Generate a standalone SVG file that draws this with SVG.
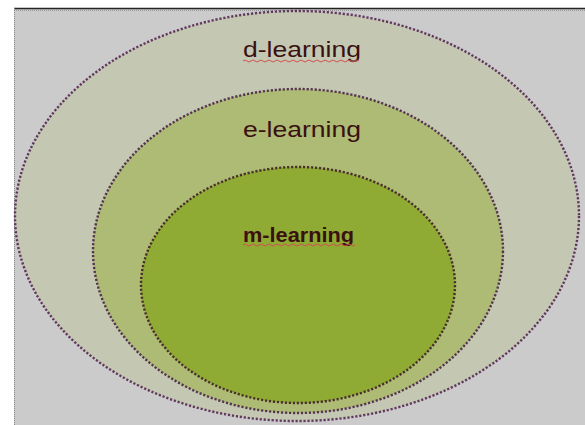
<svg xmlns="http://www.w3.org/2000/svg" width="585" height="425" viewBox="0 0 585 425">
<style>
.ring{stroke-width:2.4;stroke-dasharray:2.2 1.8;}
.lbl{font-family:"Liberation Sans",Arial,sans-serif;fill:#3a1010;text-anchor:start;}
.sq{fill:none;stroke:#d05050;stroke-width:1;}
</style>
<rect x="0" y="0" width="585" height="425" fill="#ffffff"/>
<rect x="14" y="8" width="571" height="417" fill="#cbcbcb"/>
<line x1="14" y1="8.5" x2="585" y2="8.5" stroke="#222" stroke-width="1.5"/>
<line x1="14" y1="10.5" x2="585" y2="10.5" stroke="#999" stroke-width="1" stroke-dasharray="1 1"/>
<line x1="14.5" y1="8" x2="14.5" y2="425" stroke="#888" stroke-width="1" stroke-dasharray="1 1"/>
<g id="d-learning">
<ellipse cx="297" cy="216" rx="282" ry="205" fill="#c4c8b3" stroke="#62385f" class="ring"/>
<text class="lbl" x="243" y="57" font-size="22.5" textLength="118" lengthAdjust="spacingAndGlyphs">d-learning</text>
<path class="sq" d="M243 61 q2 -2 4 0 t4 0 t4 0 t4 0 t4 0 t4 0 t4 0 t4 0 t4 0 t4 0 t4 0 t4 0 t4 0 t4 0 t4 0 t4 0 t4 0 t4 0 t4 0 t4 0 t4 0 t4 0 t4 0 t4 0 t4 0 t4 0 t4 0 t4 0 t4 0"/>
</g>
<g id="e-learning">
<ellipse cx="298" cy="251" rx="205" ry="162" fill="#adbb74" stroke="#553450" class="ring"/>
<text class="lbl" x="243" y="137" font-size="21.5" textLength="118" lengthAdjust="spacingAndGlyphs">e-learning</text>
</g>
<g id="m-learning">
<ellipse cx="298" cy="285" rx="157" ry="118" fill="#8fab34" stroke="#4a302c" class="ring"/>
<text class="lbl" x="243" y="242" font-size="20" font-weight="bold" textLength="111" lengthAdjust="spacingAndGlyphs">m-learning</text>
<path class="sq" d="M243 245 q2 -2 4 0 t4 0 t4 0 t4 0 t4 0 t4 0 t4 0 t4 0 t4 0 t4 0 t4 0 t4 0 t4 0 t4 0 t4 0 t4 0 t4 0 t4 0 t4 0 t4 0 t4 0 t4 0 t4 0 t4 0 t4 0 t4 0 t4 0 t4 0"/>
</g>
<g id="connectors"/>
</svg>
